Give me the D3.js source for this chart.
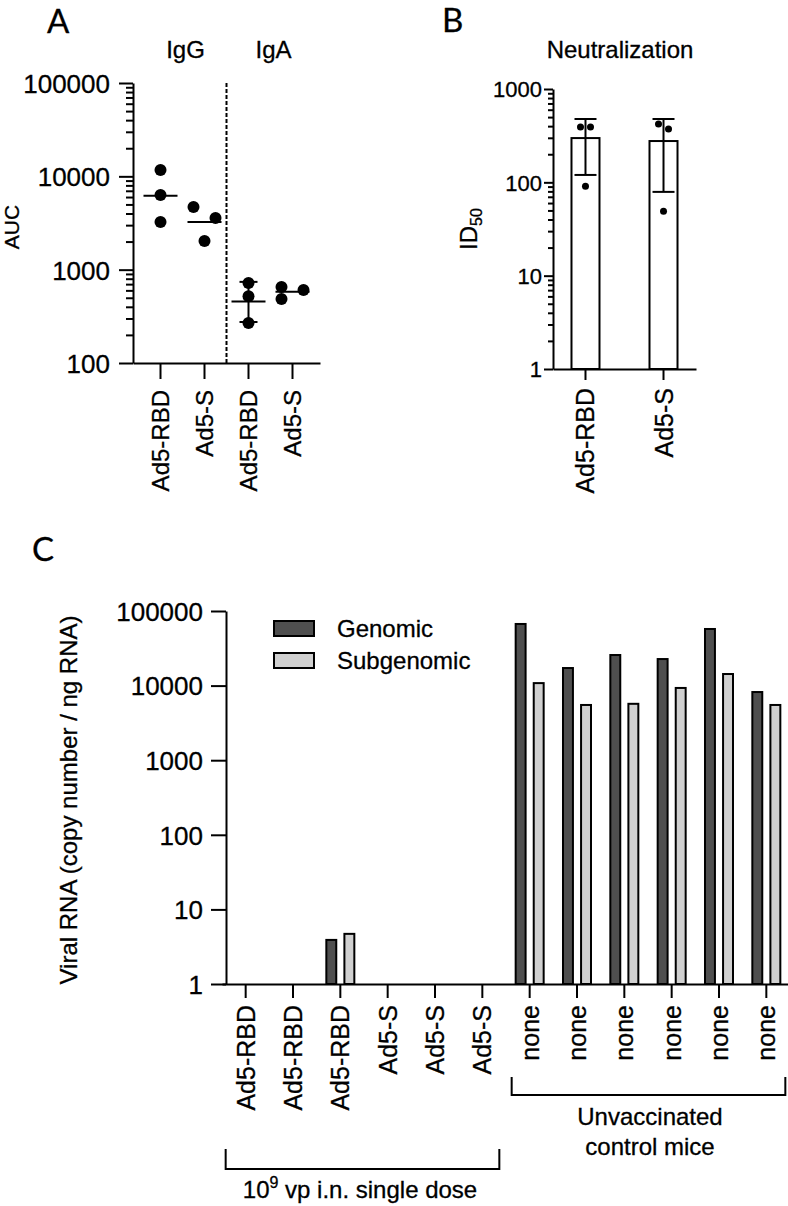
<!DOCTYPE html>
<html><head><meta charset="utf-8">
<script src="https://cdn.jsdelivr.net/npm/d3@7"></script>
<style>body{margin:0;background:#fff} svg{display:block} text{stroke:#000;stroke-width:0.3px}</style>
</head><body>
<script>
// ---------------- Panel A data ----------------
const aLabels = ["Ad5-RBD", "Ad5-S", "Ad5-RBD", "Ad5-S"];
const aIsotypes = ["IgG", "IgA"];
const aPoints = [[11700, 6300, 3240], [4690, 3580, 2030], [720, 520, 268], [652, 606, 486]];
const aMean = [6200, 3240, 455, 580];
const aErrLow = [null, null, 275, null];
const aErrHigh = [null, null, 740, null];
const aTicks = [100, 1000, 10000, 100000];
// ---------------- Panel B data ----------------
const bLabels = ["Ad5-RBD", "Ad5-S"];
const bMean = [298, 277];
const bErrLow = [120, 79];
const bErrHigh = [477, 477];
const bPoints = [[392, 392, 91], [422, 373, 49]];
const bTicks = [1, 10, 100, 1000];
// ---------------- Panel C data ----------------
const cLabels = ["Ad5-RBD", "Ad5-RBD", "Ad5-RBD", "Ad5-S", "Ad5-S", "Ad5-S",
                 "none", "none", "none", "none", "none", "none"];
const cSeries = ["Genomic", "Subgenomic"];
const cGenomic = [1, 1, 3.9, 1, 1, 1, 67000, 17200, 25700, 22700, 57400, 8200];
const cSubgenomic = [1, 1, 4.7, 1, 1, 1, 10800, 5500, 5700, 9300, 14300, 5500];
const cTicks = [1, 10, 100, 1000, 10000, 100000];
const cGroupVaccinated = ["10", "9", " vp i.n. single dose"];
const cGroupControl = ["Unvaccinated", "control mice"];

const W = 788, H = 1206;
const FONT = "'Liberation Sans', Arial, Helvetica, sans-serif";
const svg = d3.select("body").append("svg").attr("width", W).attr("height", H)
  .style("font-family", FONT);

function styleAxis(g, fs) {
  g.attr("font-family", FONT).attr("font-size", fs);
  g.selectAll("path.domain").attr("stroke", "#000").attr("stroke-width", 2);
  g.selectAll(".tick line").attr("stroke", "#000").attr("stroke-width", 2);
  g.selectAll(".tick text").attr("fill", "#000");
}
function isPow10(v) { const l = Math.log10(v); return Math.abs(l - Math.round(l)) < 1e-9; }

// deterministic swarm: points whose vertical distance is below thr form a chain, alternated left/right
function swarm(vals, y, thr, off) {
  const idx = vals.map((v, i) => i).sort((a, b) => y(vals[a]) - y(vals[b]));
  const dx = vals.map(() => 0);
  let cluster = [idx[0]];
  const flush = () => { if (cluster.length > 1) cluster.forEach((k, j) => dx[k] = (j % 2 === 0 ? -off : off)); };
  for (let j = 1; j < idx.length; j++) {
    if (y(vals[idx[j]]) - y(vals[idx[j - 1]]) < thr) cluster.push(idx[j]);
    else { flush(); cluster = [idx[j]]; }
  }
  flush();
  return dx;
}

// panel letters
const letterFont = "Lato, 'Open Sans', sans-serif";
[["A", 47, 33], ["B", 442, 32], ["C", 32, 561]].forEach(([t, x, y]) =>
  svg.append("text").attr("x", x).attr("y", y).attr("font-family", letterFont)
    .attr("font-size", 33).text(t));

// ================= Panel A =================
{
  const g = svg.append("g");
  const y = d3.scaleLog().domain([100, 100000]).range([363, 83]);
  const x = d3.scaleBand().domain(d3.range(aLabels.length)).range([133, 320])
    .paddingInner(0).paddingOuter(0.125);
  const cx = i => x(i) + x.bandwidth() / 2;

  const minor = y.ticks().filter(v => !isPow10(v));
  const gm = g.append("g").attr("transform", "translate(133,0)")
    .call(d3.axisLeft(y).tickValues(minor).tickSize(7).tickSizeOuter(0).tickFormat(""));
  styleAxis(gm, 26); gm.select(".domain").remove();
  const gy = g.append("g").attr("transform", "translate(133,0)")
    .call(d3.axisLeft(y).tickValues(aTicks).tickSize(14).tickSizeOuter(0).tickPadding(9).tickFormat(d3.format("d")));
  styleAxis(gy, 26);
  gy.selectAll(".tick text").attr("dy", "0.36em");

  const gx = g.append("g").attr("transform", "translate(0,363)")
    .call(d3.axisBottom(x).tickSize(16).tickSizeOuter(0).tickFormat(i => aLabels[i]));
  styleAxis(gx, 24);
  gx.selectAll(".tick text").attr("transform", "rotate(-90)").attr("x", -27).attr("y", 0)
    .attr("dy", "0.36em").attr("text-anchor", "end");

  const xd = (cx(1) + cx(2)) / 2;
  g.append("line").attr("x1", xd).attr("x2", xd).attr("y1", y.range()[1]).attr("y2", y.range()[0] + 2)
    .attr("stroke", "#000").attr("stroke-width", 2).attr("stroke-dasharray", "4,2");

  aIsotypes.forEach((t, k) => {
    g.append("text").attr("x", (cx(2 * k) + cx(2 * k + 1)) / 2 + 3).attr("y", 58)
      .attr("text-anchor", "middle").attr("font-size", 24).text(t);
  });

  aPoints.forEach((vals, i) => {
    const dx = swarm(vals, y, 12, 11);
    if (aErrLow[i] != null) {
      g.append("line").attr("x1", cx(i)).attr("x2", cx(i)).attr("y1", y(aErrLow[i])).attr("y2", y(aErrHigh[i]))
        .attr("stroke", "#000").attr("stroke-width", 2);
      [aErrLow[i], aErrHigh[i]].forEach(v => g.append("line").attr("x1", cx(i) - 9).attr("x2", cx(i) + 9)
        .attr("y1", y(v)).attr("y2", y(v)).attr("stroke", "#000").attr("stroke-width", 2));
    }
    g.append("line").attr("x1", cx(i) - 17).attr("x2", cx(i) + 17).attr("y1", y(aMean[i])).attr("y2", y(aMean[i]))
      .attr("stroke", "#000").attr("stroke-width", 2);
    g.selectAll(null).data(vals).join("circle")
      .attr("cx", (v, j) => cx(i) + dx[j]).attr("cy", v => y(v)).attr("r", 6).attr("fill", "#000");
  });

  g.append("text").attr("transform", "translate(19,227) rotate(-90)").attr("text-anchor", "middle")
    .attr("font-size", 21).text("AUC");
}

// ================= Panel B =================
{
  const g = svg.append("g");
  const y = d3.scaleLog().domain([1, 1000]).range([369, 89]);
  const x = d3.scaleBand().domain(d3.range(bLabels.length)).range([553, 696])
    .paddingInner(0.641).paddingOuter(0.237);
  const cx = i => x(i) + x.bandwidth() / 2;

  g.selectAll("rect.bar").data(bMean).join("rect")
    .attr("x", (v, i) => x(i)).attr("width", x.bandwidth())
    .attr("y", v => y(v)).attr("height", v => y(1) - y(v))
    .attr("fill", "#fff").attr("stroke", "#000").attr("stroke-width", 2);

  const minor = y.ticks().filter(v => !isPow10(v));
  const gm = g.append("g").attr("transform", "translate(553,0)")
    .call(d3.axisLeft(y).tickValues(minor).tickSize(5).tickSizeOuter(0).tickFormat(""));
  styleAxis(gm, 22); gm.select(".domain").remove();
  const gy = g.append("g").attr("transform", "translate(553,0)")
    .call(d3.axisLeft(y).tickValues(bTicks).tickSize(9).tickSizeOuter(0).tickPadding(2).tickFormat(d3.format("d")));
  styleAxis(gy, 22);
  gy.selectAll(".tick text").attr("dy", "0.36em");

  const gx = g.append("g").attr("transform", "translate(0,369)")
    .call(d3.axisBottom(x).tickSize(11).tickSizeOuter(0).tickFormat(i => bLabels[i]));
  styleAxis(gx, 25);
  gx.selectAll(".tick text").attr("transform", "rotate(-90)").attr("x", -19).attr("y", 0)
    .attr("dy", "0.36em").attr("text-anchor", "end");

  bMean.forEach((m, i) => {
    g.append("line").attr("x1", cx(i)).attr("x2", cx(i)).attr("y1", y(bErrLow[i])).attr("y2", y(bErrHigh[i]))
      .attr("stroke", "#000").attr("stroke-width", 2);
    [bErrLow[i], bErrHigh[i]].forEach(v => g.append("line").attr("x1", cx(i) - 11).attr("x2", cx(i) + 11)
      .attr("y1", y(v)).attr("y2", y(v)).attr("stroke", "#000").attr("stroke-width", 2));
    const dx = swarm(bPoints[i], y, 7, 5);
    g.selectAll(null).data(bPoints[i]).join("circle")
      .attr("cx", (v, j) => cx(i) + dx[j]).attr("cy", v => y(v)).attr("r", 3.5).attr("fill", "#000");
  });

  g.append("text").attr("x", 620).attr("y", 58).attr("text-anchor", "middle").attr("font-size", 24)
    .text("Neutralization");
  const t = g.append("text").attr("transform", "translate(477,229) rotate(-90)").attr("text-anchor", "middle")
    .attr("font-size", 24);
  t.append("tspan").text("ID");
  t.append("tspan").attr("font-size", 16).attr("dy", 5).text("50");
}

// ================= Panel C =================
{
  const g = svg.append("g");
  const y = d3.scaleLog().domain([1, 100000]).range([984, 611]);
  const x = d3.scaleBand().domain(d3.range(cLabels.length)).range([222, 790]).padding(0);
  const xs = d3.scaleBand().domain(cSeries).range([x.bandwidth() / 2 - 14, x.bandwidth() / 2 + 14]).paddingInner(0.45);
  const color = d3.scaleOrdinal().domain(cSeries).range(["#4f4f4f", "#d0d0d0"]);

  const rows = cLabels.map((c, i) => ({ i, vals: [["Genomic", cGenomic[i]], ["Subgenomic", cSubgenomic[i]]] }));
  g.selectAll("g.grp").data(rows).join("g").attr("transform", d => `translate(${x(d.i)},0)`)
    .selectAll("rect").data(d => d.vals.filter(v => v[1] > 1)).join("rect")
    .attr("x", d => xs(d[0])).attr("width", xs.bandwidth())
    .attr("y", d => y(d[1])).attr("height", d => y(1) - y(d[1]))
    .attr("fill", d => color(d[0])).attr("stroke", "#000").attr("stroke-width", 2);

  const gy = g.append("g").attr("transform", "translate(226,0)")
    .call(d3.axisLeft(y).tickValues(cTicks).tickSize(15).tickSizeOuter(0).tickPadding(8).tickFormat(d3.format("d")));
  styleAxis(gy, 26);
  gy.selectAll(".tick text").attr("dy", "0.36em");

  const gx = g.append("g").attr("transform", "translate(0,984)")
    .call(d3.axisBottom(x).tickSize(14).tickSizeOuter(0).tickFormat(i => cLabels[i]));
  styleAxis(gx, 25);
  gx.selectAll(".tick text").attr("transform", "rotate(-90)").attr("x", -21).attr("y", 0)
    .attr("dy", "0.36em").attr("text-anchor", "end");

  cSeries.forEach((s, k) => {
    const ly = 621 + k * 32;
    g.append("rect").attr("x", 274).attr("y", ly).attr("width", 40).attr("height", 15)
      .attr("fill", color(s)).attr("stroke", "#000").attr("stroke-width", 2);
    g.append("text").attr("x", 337).attr("y", ly + 16).attr("font-size", 24).text(s);
  });

  const bracket = (x1, x2, yb, h) => g.append("path")
    .attr("d", `M${x1},${yb - h}V${yb}H${x2}V${yb - h}`)
    .attr("fill", "none").attr("stroke", "#000").attr("stroke-width", 2);
  const cxC = i => x(i) + x.bandwidth() / 2;
  bracket(cxC(0) - 20, cxC(5) + 17, 1169, 20);
  bracket(cxC(6) - 18, cxC(11) + 19, 1095, 18);
  const tv = g.append("text").attr("x", (cxC(0) + cxC(5)) / 2 - 4).attr("y", 1198)
    .attr("text-anchor", "middle").attr("font-size", 24);
  tv.append("tspan").text(cGroupVaccinated[0]);
  tv.append("tspan").attr("font-size", 16).attr("dy", -10).text(cGroupVaccinated[1]);
  tv.append("tspan").attr("dy", 10).text(cGroupVaccinated[2]);
  cGroupControl.forEach((t, k) => g.append("text").attr("x", (cxC(6) + cxC(11)) / 2 + 2).attr("y", 1125 + k * 30)
    .attr("text-anchor", "middle").attr("font-size", 24).text(t));

  g.append("text").attr("transform", "translate(77,800) rotate(-90)").attr("text-anchor", "middle")
    .attr("font-size", 24).text("Viral RNA (copy number / ng RNA)");
}
</script>
</body></html>
